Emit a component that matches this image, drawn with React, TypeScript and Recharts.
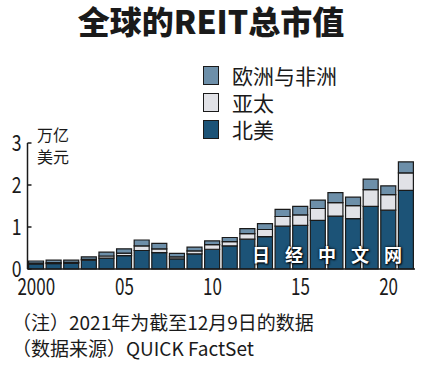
import { BarChart, Bar, XAxis, YAxis } from 'recharts';

// 2000-2021, trillion USD
const years = [
  2000, 2001, 2002, 2003, 2004, 2005, 2006, 2007, 2008, 2009, 2010,
  2011, 2012, 2013, 2014, 2015, 2016, 2017, 2018, 2019, 2020, 2021,
];
const northAmerica = [
  0.12, 0.13, 0.14, 0.21, 0.26, 0.32, 0.44, 0.39, 0.24, 0.36, 0.47,
  0.55, 0.71, 0.77, 1.02, 1.04, 1.16, 1.26, 1.2, 1.49, 1.4, 1.87,
];
const asiaPacific = [
  0.02, 0.02, 0.02, 0.02, 0.05, 0.06, 0.11, 0.09, 0.05, 0.07, 0.11,
  0.1, 0.13, 0.17, 0.23, 0.25, 0.28, 0.32, 0.31, 0.4, 0.37, 0.42,
];
const europeAfrica = [
  0.05, 0.06, 0.05, 0.06, 0.09, 0.1, 0.14, 0.13, 0.08, 0.09, 0.09,
  0.1, 0.12, 0.14, 0.17, 0.2, 0.2, 0.24, 0.2, 0.25, 0.21, 0.26,
];
const xTickLabels: Record<number, string> = { 2000: '2000', 2005: '05', 2010: '10', 2015: '15', 2020: '20' };
const yTicks = [0, 1, 2, 3];

const data = years.map((year, i) => ({
  year,
  na: northAmerica[i],
  ap: asiaPacific[i],
  eu: europeAfrica[i],
}));

const INK = '#1a1a1a';
const C_NA = '#1c5377';
const C_AP = '#e1e2e7';
const C_EU = '#6d8fa9';
const FONT = '"Noto Sans CJK SC", "Noto Sans", sans-serif';

const XTick = (props: any) => {
  const { x, y, payload } = props;
  const label = xTickLabels[payload.value];
  if (!label) return null;
  return (
    <g transform={`translate(${x},${y})`}>
      <text transform="scale(0.74,1)" textAnchor="middle" y={26} fontSize={23} fill={INK} fontFamily={FONT}>
        {label}
      </text>
    </g>
  );
};

const YTick = (props: any) => {
  const { x, y, payload } = props;
  return (
    <g>
      <line x1={x} x2={x + 4} y1={y} y2={y} stroke={INK} strokeWidth={1.5} />
      <g transform={`translate(${x - 6},${y})`}>
        <text transform="scale(0.8,1)" textAnchor="end" y={8} fontSize={22} fill={INK} fontFamily={FONT}>
          {payload.value}
        </text>
      </g>
    </g>
  );
};

const legend = [
  { name: '欧洲与非洲', color: C_EU },
  { name: '亚太', color: C_AP },
  { name: '北美', color: C_NA },
];

export default function App() {
  return (
    <div style={{ position: 'absolute', left: 0, top: 0, width: 430, height: 373, background: '#fff', fontFamily: FONT, color: INK }}>
      <div style={{ position: 'absolute', left: 0, width: 422, top: 4, textAlign: 'center', fontSize: 32, fontWeight: 900, lineHeight: 1 }}>
        全球的REIT总市值
      </div>

      {legend.map((item, i) => (
        <div key={item.name} style={{ position: 'absolute', left: 203, top: 65 + i * 27, display: 'flex', alignItems: 'center', height: 21 }}>
          <div style={{ width: 16, height: 19, background: item.color, border: `1px solid ${INK}`, boxSizing: 'border-box' }} />
          <span style={{ marginLeft: 13, fontSize: 21, lineHeight: 1 }}>{item.name}</span>
        </div>
      ))}

      <div style={{ position: 'absolute', left: 37, top: 123, fontSize: 16, lineHeight: '22px' }}>
        万亿
        <br />
        美元
      </div>

      <div style={{ position: 'absolute', left: 0, top: 0 }}>
        <BarChart width={430} height={300} data={data} margin={{ top: 143, right: 15, left: 0, bottom: 0 }} barSize={15}>
          <XAxis
            dataKey="year"
            interval={0}
            height={31}
            tickLine={false}
            tickSize={0}
            tickMargin={0}
            axisLine={{ stroke: INK, strokeWidth: 1.5 }}
            tick={<XTick />}
          />
          <YAxis
            width={27.5}
            domain={[0, 3]}
            ticks={yTicks}
            tickLine={false}
            tickSize={0}
            tickMargin={0}
            axisLine={{ stroke: INK, strokeWidth: 1.5 }}
            tick={<YTick />}
          />
          <Bar dataKey="na" stackId="a" fill={C_NA} stroke={INK} strokeWidth={1.2} isAnimationActive={false} />
          <Bar dataKey="ap" stackId="a" fill={C_AP} stroke={INK} strokeWidth={1.2} isAnimationActive={false} />
          <Bar dataKey="eu" stackId="a" fill={C_EU} stroke={INK} strokeWidth={1.2} isAnimationActive={false} />
        </BarChart>
      </div>

      <div
        style={{
          position: 'absolute',
          left: 252,
          top: 245,
          fontSize: 18,
          fontWeight: 700,
          letterSpacing: 15,
          color: '#fff',
          lineHeight: 1,
          textShadow: '1px 1px 2px #000, 0 0 3px #000',
        }}
      >
        日经中文网
      </div>

      <div style={{ position: 'absolute', left: 12, top: 309, fontSize: 19, lineHeight: '26px' }}>
        （注）2021年为截至12月9日的数据
        <br />
        （数据来源）QUICK FactSet
      </div>
    </div>
  );
}
